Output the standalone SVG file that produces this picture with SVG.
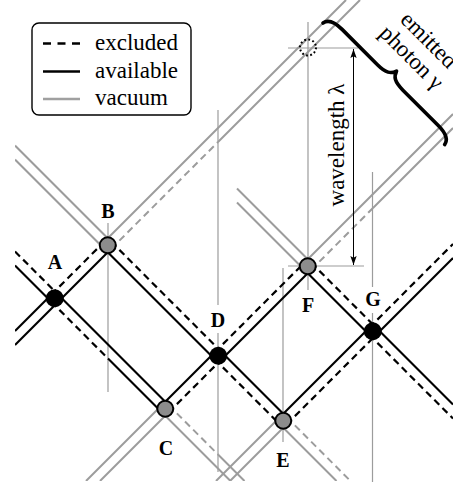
<svg xmlns="http://www.w3.org/2000/svg" width="453" height="483" viewBox="0 0 453 483">
<style>
.k{stroke:#000;stroke-width:2.2;fill:none}
.kd{stroke:#000;stroke-width:2.2;fill:none;stroke-dasharray:7 4.5}
.g{stroke:#9c9c9c;stroke-width:2;fill:none}
.gd{stroke:#9c9c9c;stroke-width:2;fill:none;stroke-dasharray:7 4.5}
.t{stroke:#9c9c9c;stroke-width:1.2;fill:none}
.txt{font-family:"Liberation Serif","DejaVu Serif",serif;font-size:23px;fill:#000}
.lab{font-family:"Liberation Serif","DejaVu Serif",serif;font-size:20px;font-weight:bold;fill:#000;text-anchor:middle}
.blk{fill:#000}
.gry{fill:#8c8c8c;stroke:#000;stroke-width:2}
</style>
<defs>
<clipPath id="clip"><rect x="15" y="0" width="438" height="481"/></clipPath>
<marker id="ah" viewBox="0 0 10 10" refX="10" refY="5" markerWidth="9" markerHeight="9" markerUnits="userSpaceOnUse" orient="auto-start-reverse">
<path d="M0,1.5 L10,5 L0,8.5 L2,5 Z" fill="#000"/>
</marker>
</defs>
<rect width="453" height="483" fill="#fff"/>
<g id="timelines">
<line class="t" x1="108" y1="223" x2="108" y2="392"/>
<line class="t" x1="218" y1="110" x2="218" y2="305"/>
<line class="t" x1="218" y1="333" x2="218" y2="472"/>
<line class="t" x1="283" y1="268" x2="283" y2="442"/>
<line class="t" x1="308" y1="22" x2="308" y2="290"/>
<line class="t" x1="372.5" y1="172" x2="372.5" y2="287"/>
<line class="t" x1="372.5" y1="313" x2="372.5" y2="482"/>
<line class="t" x1="288" y1="48" x2="358" y2="48"/>
<line class="t" x1="288" y1="266" x2="364" y2="266"/>
</g>
<g id="connectors" clip-path="url(#clip)">
<!-- vacuum lines -->
<line class="g" x1="15" y1="145.5" x2="111.25" y2="241.75"/>
<line class="g" x1="15" y1="159.5" x2="104.25" y2="248.75"/>
<line class="g" x1="104.25" y1="241.75" x2="346" y2="0"/>
<line class="gd" x1="111.25" y1="248.75" x2="218" y2="142"/>
<line class="g" x1="218" y1="142" x2="360" y2="0"/>
<line class="gd" x1="286.75" y1="417.25" x2="350.5" y2="481"/>
<line class="g" x1="279.75" y1="424.25" x2="336.5" y2="481"/>
<line class="g" x1="304.25" y1="262.75" x2="453" y2="114"/>
<line class="gd" x1="311.25" y1="269.75" x2="372.75" y2="208.25"/>
<line class="g" x1="372.75" y1="208.25" x2="453" y2="128"/>
<line class="g" x1="237" y1="188.5" x2="311.25" y2="262.75"/>
<line class="g" x1="237" y1="202.5" x2="304.25" y2="269.75"/>
<line class="g" x1="279.75" y1="417.25" x2="216" y2="481"/>
<line class="g" x1="286.75" y1="424.25" x2="230" y2="481"/>
<line class="g" x1="161.75" y1="405.25" x2="86" y2="481"/>
<line class="g" x1="168.75" y1="412.25" x2="100" y2="481"/>
<line class="gd" x1="168.75" y1="405.25" x2="218" y2="454.5"/>
<line class="g" x1="218" y1="454.5" x2="244.5" y2="481"/>
<line class="g" x1="161.75" y1="412.25" x2="230.5" y2="481"/>
<!-- electron lines -->
<line class="kd" x1="15" y1="251.5" x2="58.25" y2="294.75"/>
<line class="k" x1="15" y1="265.5" x2="51.25" y2="301.75"/>
<line class="k" x1="58.25" y1="294.75" x2="168.75" y2="405.25"/>
<line class="kd" x1="51.25" y1="301.75" x2="108" y2="358.5"/>
<line class="k" x1="108" y1="358.5" x2="161.75" y2="412.25"/>
<line class="k" x1="15" y1="331" x2="51.25" y2="294.75"/>
<line class="k" x1="15" y1="345" x2="58.25" y2="301.75"/>
<line class="kd" x1="51.25" y1="294.75" x2="104.25" y2="241.75"/>
<line class="k" x1="58.25" y1="301.75" x2="111.25" y2="248.75"/>
<line class="k" x1="104.25" y1="248.75" x2="214.75" y2="359.25"/>
<line class="kd" x1="111.25" y1="241.75" x2="221.75" y2="352.25"/>
<line class="k" x1="221.75" y1="352.25" x2="286.75" y2="417.25"/>
<line class="kd" x1="214.75" y1="359.25" x2="279.75" y2="424.25"/>
<line class="k" x1="161.75" y1="405.25" x2="214.75" y2="352.25"/>
<line class="kd" x1="168.75" y1="412.25" x2="221.75" y2="359.25"/>
<line class="kd" x1="214.75" y1="352.25" x2="304.25" y2="262.75"/>
<line class="k" x1="221.75" y1="359.25" x2="311.25" y2="269.75"/>
<line class="kd" x1="311.25" y1="262.75" x2="376.25" y2="327.75"/>
<line class="k" x1="304.25" y1="269.75" x2="369.25" y2="334.75"/>
<line class="k" x1="376.25" y1="327.75" x2="453" y2="404.5"/>
<line class="kd" x1="369.25" y1="334.75" x2="453" y2="418.5"/>
<line class="k" x1="279.75" y1="417.25" x2="369.25" y2="327.75"/>
<line class="kd" x1="286.75" y1="424.25" x2="376.25" y2="334.75"/>
<line class="kd" x1="369.25" y1="327.75" x2="453" y2="244"/>
<line class="k" x1="376.25" y1="334.75" x2="453" y2="258"/>
<!-- wavelength arrow -->
<line stroke="#000" stroke-width="1" x1="353.5" y1="49" x2="353.5" y2="265" marker-start="url(#ah)" marker-end="url(#ah)"/>
</g>
<g id="legend">
<rect x="32" y="23" width="159" height="92" rx="7" fill="#fff" stroke="#000" stroke-width="1.4"/>
<line x1="43" y1="43.5" x2="80" y2="43.5" stroke="#000" stroke-width="2.4" stroke-dasharray="8 6.5"/>
<line x1="43" y1="71.5" x2="80" y2="71.5" stroke="#000" stroke-width="2.4"/>
<line x1="43" y1="99" x2="80" y2="99" stroke="#a0a0a0" stroke-width="2.4"/>
<text class="txt" x="95" y="50">excluded</text>
<text class="txt" x="95" y="77.5">available</text>
<text class="txt" x="95" y="104.5">vacuum</text>
</g>
<g id="photon">
<circle cx="308" cy="47.5" r="8" fill="none" stroke="#000" stroke-width="2" stroke-dasharray="1.8 2.4"/>
<path transform="translate(323,23) rotate(45)" d="M0,0 C1,-6 6,-9 18,-9 L68,-9 C80,-9 84,-12 86,-18 C88,-12 92,-9 104,-9 L154,-9 C166,-9 171,-6 172,0" fill="none" stroke="#000" stroke-width="3.6" stroke-linecap="round" stroke-linejoin="round"/>
<text class="txt" transform="translate(428,41) rotate(45)" text-anchor="middle" y="6">emitted</text>
<text class="txt" transform="translate(410,59) rotate(45)" text-anchor="middle" y="5">photon γ</text>
<text class="txt" transform="translate(344,145) rotate(-90)" text-anchor="middle">wavelength λ</text>
</g>
<g id="nodeA"><circle class="blk" cx="54.75" cy="298.25" r="9"/><text class="lab" x="55" y="269">A</text></g>
<g id="nodeB"><circle class="gry" cx="107.75" cy="245.25" r="8"/><text class="lab" x="108" y="218">B</text></g>
<g id="nodeC"><circle class="gry" cx="165.25" cy="408.75" r="8"/><text class="lab" x="166" y="455">C</text></g>
<g id="nodeD"><circle class="blk" cx="218.25" cy="355.75" r="9"/><text class="lab" x="218" y="327">D</text></g>
<g id="nodeE"><circle class="gry" cx="283.25" cy="420.75" r="8"/><text class="lab" x="283" y="467">E</text></g>
<g id="nodeF"><circle class="gry" cx="307.75" cy="266.25" r="8"/><text class="lab" x="308" y="312">F</text></g>
<g id="nodeG"><circle class="blk" cx="372.75" cy="331.25" r="9"/><text class="lab" x="373" y="306">G</text></g>
</svg>
